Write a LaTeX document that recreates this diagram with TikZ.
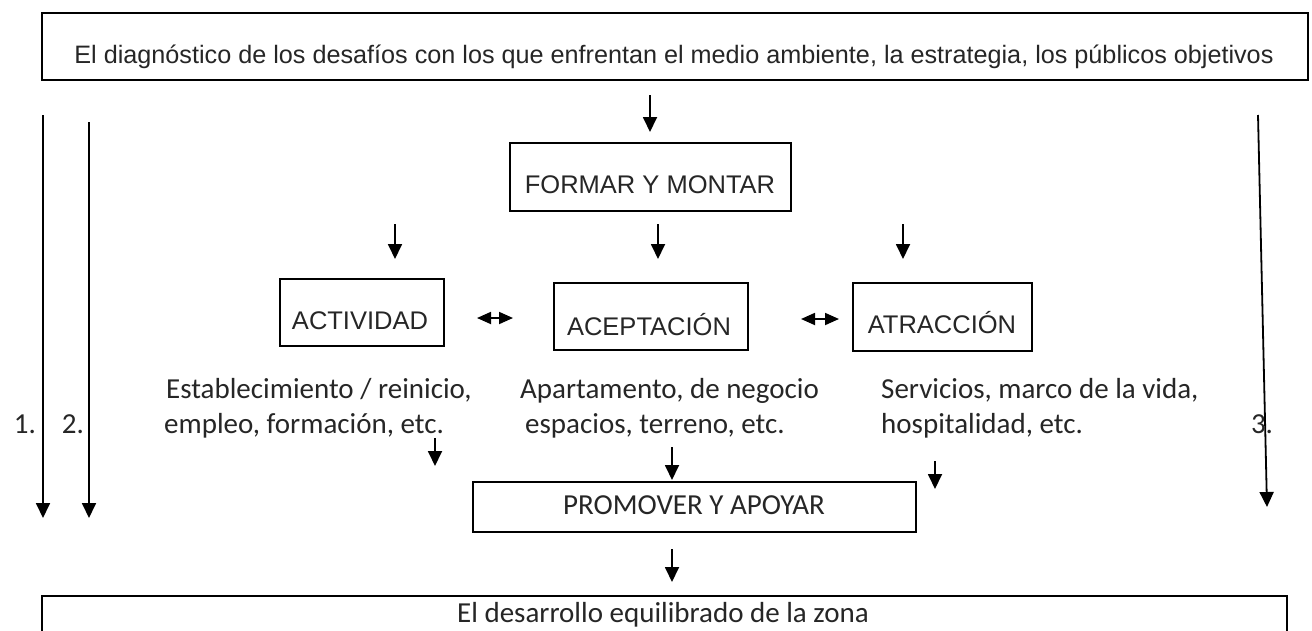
\documentclass[tikz,border=0pt]{standalone}
\usepackage{fontspec}
\setmainfont{Liberation Sans}
\newfontfamily\calib{Carlito}
\usetikzlibrary{arrows.meta}
\begin{document}
\begin{tikzpicture}[x=1pt,y=-1pt,
  box/.style={draw, line width=1.8pt, inner sep=0pt, anchor=north west},
  arr/.style={-{Triangle[width=14pt,length=15pt]}, line width=1.8pt},
  darr/.style={{Triangle[width=12pt,length=14pt]}-{Triangle[width=12pt,length=14pt]}, line width=1.8pt},
  artop/.style={font=\fontsize{25.2}{30}\selectfont, anchor=base, inner sep=0pt, text=black!85},
  arbox/.style={font=\fontsize{25.5}{30}\selectfont, anchor=base, inner sep=0pt, text=black!85},
  cal/.style={font=\calib\fontsize{29}{35}\selectfont, anchor=base west, inner sep=0pt, text=black!85},
  calc/.style={font=\calib\fontsize{29}{35}\selectfont, anchor=base, inner sep=0pt, text=black!85}
]
\useasboundingbox (0,0) rectangle (1312,630);
\fill[white] (0,0) rectangle (1312,630);

% top box
\node[box, minimum width=1266pt, minimum height=67pt] (topbox) at (41,12) {};
\node[artop] (toptext) at (674,63) {El diagnóstico de los desafíos con los que enfrentan el medio ambiente, la estrategia, los públicos objetivos};

% arrow to FORMAR
\coordinate (a0s) at (650,95);
\coordinate (a0e) at (650,132);
\draw[arr] (a0s) -- (a0e);

% FORMAR box
\node[box, minimum width=281pt, minimum height=68pt] (formar) at (509,142) {};
\node[arbox] (formartext) at (650,193) {FORMAR Y MONTAR};

% three arrows
\coordinate (b1s) at (395,224); \coordinate (b1e) at (395,259);
\coordinate (b2s) at (658,224); \coordinate (b2e) at (658,259);
\coordinate (b3s) at (903,224); \coordinate (b3e) at (903,259);
\draw[arr] (b1s) -- (b1e);
\draw[arr] (b2s) -- (b2e);
\draw[arr] (b3s) -- (b3e);

% three boxes
\node[box, minimum width=164pt, minimum height=67pt] (activ) at (279,278) {};
\node[arbox] (activtext) at (360,329) {ACTIVIDAD};
\node[box, minimum width=194pt, minimum height=67pt] (acept) at (553,282) {};
\node[arbox] (acepttext) at (649,335) {ACEPTACIÓN};
\node[box, minimum width=179pt, minimum height=68pt] (atrac) at (852,282) {};
\node[arbox] (atractext) at (942,333) {ATRACCIÓN};

% double arrows
\coordinate (d1l) at (477,318); \coordinate (d1r) at (513,318);
\coordinate (d2l) at (801,319); \coordinate (d2r) at (839,319);
\draw[darr] (d1l) -- (d1r);
\draw[darr] (d2l) -- (d2r);

% descriptions
\node[cal] (c1a) at (166,398) {Establecimiento / reinicio,};
\node[cal] (c1b) at (164,433) {empleo, formación, etc.};
\node[cal] (c2a) at (520,398) {Apartamento, de negocio};
\node[cal] (c2b) at (525,433) {espacios, terreno, etc.};
\node[cal] (c3a) at (881,398) {Servicios, marco de la vida,};
\node[cal] (c3b) at (881,433) {hospitalidad, etc.};

% long side arrows
\coordinate (l1s) at (43,115); \coordinate (l1e) at (43,518);
\coordinate (l2s) at (89,122); \coordinate (l2e) at (89,518);
\coordinate (l3s) at (1258,115); \coordinate (l3e) at (1267,507);
\draw[arr] (l1s) -- (l1e);
\draw[arr] (l2s) -- (l2e);
\draw[arr] (l3s) -- (l3e);
\node[calc] (n1) at (25,433) {1.};
\node[calc] (n2) at (73,433) {2.};
\node[calc] (n3) at (1262,433) {3.};

% small arrows to PROMOVER
\coordinate (s1s) at (435,438); \coordinate (s1e) at (435,466);
\coordinate (s2s) at (672,447); \coordinate (s2e) at (672,480);
\coordinate (s3s) at (935,461); \coordinate (s3e) at (935,489);
\draw[arr] (s1s) -- (s1e);
\draw[arr] (s2s) -- (s2e);
\draw[arr] (s3s) -- (s3e);

% PROMOVER box
\node[box, minimum width=443pt, minimum height=50pt] (promo) at (472,481) {};
\node[calc] (promotext) at (694,514) {PROMOVER Y APOYAR};

% arrow to bottom
\coordinate (es) at (672,549); \coordinate (ee) at (672,582);
\draw[arr] (es) -- (ee);

% bottom box
\node[box, minimum width=1245pt, minimum height=70pt] (botbox) at (41,595) {};
\node[calc] (bottext) at (663,622) {El desarrollo equilibrado de la zona};
\end{tikzpicture}
\end{document}
